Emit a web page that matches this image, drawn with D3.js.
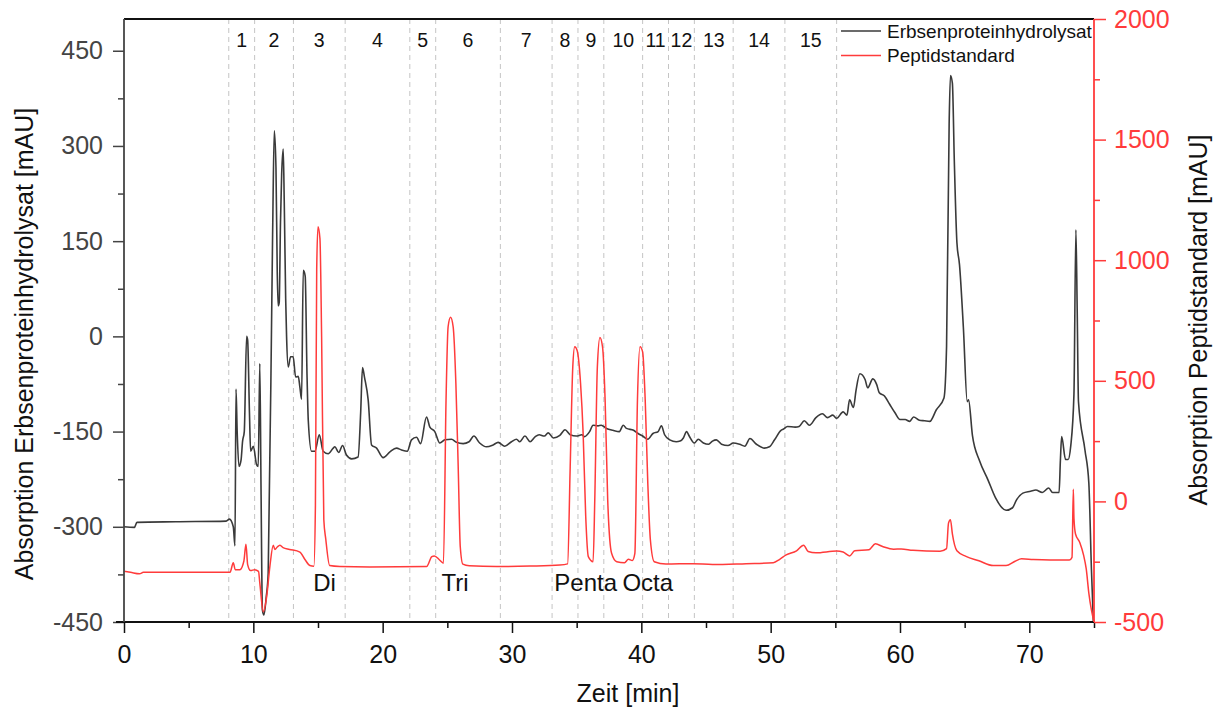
<!DOCTYPE html>
<html>
<head>
<meta charset="utf-8">
<script src="https://cdn.jsdelivr.net/npm/d3@7"></script>
<style>
  body { margin: 0; background: #fff; }
  svg { display: block; font-family: "Liberation Sans", Arial, sans-serif; }
</style>
</head>
<body>
<div id="plot"></div>
<script>
// chromatogram traces, [time in min, absorption in mAU]
const erbsen = [
  [0, -300], [0.8, -301], [1.0, -293], [4, -292], [7.9, -291], [8.15, -288], [8.45, -300],
  [8.58, -330], [8.66, -83], [8.75, -150], [8.89, -205], [9.05, -195], [9.17, -165], [9.3, -150],
  [9.48, 0], [9.56, -6], [9.7, -120], [9.79, -181], [10.0, -173], [10.25, -202], [10.38, -205],
  [10.5, -43], [10.6, -250], [10.7, -431], [10.82, -439], [11.0, -410], [11.15, -373],
  [11.49, 160], [11.62, 324], [11.75, 266], [11.85, 100], [11.92, 48], [12.0, 53], [12.1, 180],
  [12.19, 255], [12.31, 295], [12.39, 213], [12.5, 60], [12.57, 0], [12.7, -48], [12.88, -32],
  [13.08, -32], [13.27, -64], [13.47, -63], [13.6, -80], [13.73, -99], [13.86, 104], [14.01, 95],
  [14.15, -60], [14.25, -133], [14.5, -181], [14.76, -181], [15.1, -155], [15.4, -181],
  [15.79, -185], [16.18, -176], [16.3, -174], [16.6, -183], [16.9, -172], [17.2, -187],
  [17.6, -193], [18.1, -190], [18.3, -120], [18.44, -49], [18.6, -65], [18.88, -100],
  [19.14, -171], [19.53, -176], [20.04, -191], [20.56, -182], [21.07, -176], [21.46, -179],
  [21.9, -181], [22.23, -163], [22.62, -159], [22.93, -169], [23.39, -127], [23.65, -143],
  [24.03, -150], [24.42, -168], [24.81, -163], [25.32, -162], [25.71, -167], [26.22, -169],
  [26.68, -166], [27.05, -157], [27.5, -168], [28.03, -174], [28.54, -171], [28.93, -167],
  [29.44, -173], [29.96, -166], [30.35, -162], [30.6, -166], [31.0, -157], [31.4, -166],
  [31.8, -158], [32.1, -155], [32.5, -157], [32.8, -152], [33.2, -160], [33.7, -156],
  [34.1, -147], [34.5, -155], [34.98, -157], [35.4, -155], [35.6, -158], [36.0, -150],
  [36.27, -140], [36.65, -141], [36.9, -140], [37.3, -145], [37.8, -148], [38.3, -150],
  [38.6, -140], [38.85, -145], [39.4, -148], [39.75, -153], [40.1, -157], [40.5, -162],
  [40.9, -153], [41.3, -150], [41.55, -141], [41.8, -155], [42.2, -163], [42.7, -166],
  [43.0, -165], [43.25, -160], [43.5, -150], [43.7, -157], [44.1, -168], [44.4, -162],
  [44.8, -168], [45.2, -170], [45.5, -165], [45.8, -163], [46.2, -170], [46.7, -172],
  [47.1, -168], [47.6, -170], [48.0, -173], [48.4, -161], [48.9, -170], [49.5, -176],
  [49.9, -174], [50.3, -163], [50.8, -148], [51.0, -146], [51.3, -142], [51.9, -143],
  [52.2, -142], [52.6, -133], [53.0, -140], [53.5, -128], [54.0, -122], [54.4, -128],
  [54.8, -124], [55.1, -129], [55.6, -119], [55.9, -124], [56.1, -100], [56.4, -112],
  [56.6, -85], [56.9, -59], [57.3, -68], [57.5, -81], [57.9, -67], [58.2, -76], [58.4, -89],
  [58.8, -94], [59.2, -107], [59.6, -120], [60.0, -131], [60.4, -131], [60.75, -134],
  [61.05, -127], [61.5, -132], [61.9, -133], [62.3, -134], [62.8, -116], [63.4, -97],
  [63.6, -16], [63.8, 335], [63.9, 411], [64.05, 399], [64.2, 276], [64.4, 148], [64.6, 113],
  [64.9, 14], [65.2, -103], [65.3, -100], [65.6, -156], [66.15, -196], [66.8, -226],
  [67.4, -255], [67.8, -268], [68.2, -274], [68.7, -270], [69.0, -258], [69.5, -247],
  [70.1, -244], [70.5, -242], [71.0, -246], [71.5, -239], [71.8, -246], [72.3, -246],
  [72.4, -196], [72.5, -158], [72.8, -194], [73.0, -194], [73.2, -173], [73.45, -91],
  [73.6, 168], [73.7, 43], [73.8, -103], [74.3, -179], [74.6, -231], [74.8, -366], [74.95, -450]
];

const peptid = [
  [0, -290], [0.5, -294], [1.2, -300], [1.5, -294], [8.2, -294], [8.45, -254], [8.6, -283],
  [8.96, -283], [9.27, -247], [9.43, -178], [9.56, -262], [9.79, -287], [10.1, -283],
  [10.4, -290], [10.5, -338], [10.77, -458], [11.03, -395], [11.28, -269], [11.54, -182],
  [11.67, -199], [11.85, -189], [12.06, -182], [12.3, -192], [12.8, -199], [13.6, -210],
  [13.99, -241], [14.37, -266], [14.68, -269], [14.8, -17], [14.9, 963], [15.0, 1139],
  [15.15, 1090], [15.28, 683], [15.45, -76], [15.6, -156], [15.9, -266], [16.7, -270],
  [19.0, -272], [23.4, -270], [23.8, -229], [24.0, -226], [24.4, -243], [24.7, -256],
  [24.9, 420], [25.06, 724], [25.25, 763], [25.45, 724], [25.66, 490], [25.84, 144],
  [26.0, -188], [26.2, -260], [26.7, -267], [28.8, -270], [31.4, -268], [33.7, -264],
  [34.3, -259], [34.5, 144], [34.7, 558], [34.85, 641], [35.03, 627], [35.3, 490], [35.5, 282],
  [35.7, -63], [35.9, -229], [36.27, -250], [36.4, 6], [36.6, 558], [36.8, 680], [37.0, 641],
  [37.2, 420], [37.4, 6], [37.7, -215], [38.1, -250], [38.7, -254], [39.0, -240], [39.3, -245],
  [39.5, -215], [39.7, 420], [39.9, 641], [40.1, 620], [40.3, 420], [40.5, 75], [40.7, -160],
  [41.0, -250], [41.9, -260], [44.0, -258], [45.5, -262], [48.1, -258], [50.2, -254],
  [50.7, -240], [51.2, -222], [52.0, -205], [52.55, -182], [52.9, -208], [53.5, -213],
  [55.1, -206], [55.6, -210], [56.1, -226], [56.5, -205], [57.6, -200], [58.1, -176],
  [58.7, -188], [59.5, -198], [60.1, -197], [61.0, -203], [63.1, -207], [63.6, -196],
  [63.75, -90], [63.9, -76], [64.05, -135], [64.4, -205], [65.1, -228], [66.1, -246],
  [67.2, -266], [68.2, -266], [68.9, -248], [69.4, -238], [70.3, -241], [71.6, -243],
  [73.1, -243], [73.3, -232], [73.4, 50], [73.45, -70], [73.57, -135], [73.9, -170],
  [74.2, -224], [74.4, -280], [74.6, -380], [74.8, -450], [75, -500]
];

// fraction boundaries (min) and fraction numbers
const fractionBounds = [8.1, 10.1, 13.1, 17.1, 22.1, 24.1, 29.1, 33.1, 35.1, 37.1, 40.1, 42.1, 44.1, 47.1, 51.1, 55.1];
const fractionLabels = ['1', '2', '3', '4', '5', '6', '7', '8', '9', '10', '11', '12', '13', '14', '15'];

// peptide standard annotations
const peakNames = ['Di', 'Tri', 'Penta', 'Octa'];
const peakTimes = [15.5, 25.6, 35.7, 40.5];

const xTicks = [0, 10, 20, 30, 40, 50, 60, 70];
const xMinor = [5, 15, 25, 35, 45, 55, 65, 75];
const leftTicks = [-450, -300, -150, 0, 150, 300, 450];
const leftMinor = [-375, -225, -75, 75, 225, 375];
const rightTicks = [-500, 0, 500, 1000, 1500, 2000];
const rightMinor = [-250, 250, 750, 1250, 1750];

const width = 1217;
const height = 709;
const red = '#ff3b3b';

const svg = d3.select('#plot').append('svg')
    .attr('width', width)
    .attr('height', height);

const x = d3.scaleLinear().domain([0, 75]).range([124, 1094]);
const yL = d3.scaleLinear().domain([-450, 500]).range([622, 19]);
const yR = d3.scaleLinear().domain([-500, 2000]).range([622, 19]);

// dashed fraction boundaries
svg.append('g').selectAll('line')
    .data(fractionBounds)
    .join('line')
    .attr('x1', d => x(d)).attr('x2', d => x(d))
    .attr('y1', yL.range()[1]).attr('y2', yL.range()[0])
    .attr('stroke', '#c4c4c4')
    .attr('stroke-width', 1)
    .attr('stroke-dasharray', '5,4');

svg.append('g').selectAll('text')
    .data(fractionLabels)
    .join('text')
    .attr('x', (d, i) => x((fractionBounds[i] + fractionBounds[i + 1]) / 2))
    .attr('y', 47)
    .attr('text-anchor', 'middle')
    .attr('font-size', '19.5px')
    .attr('fill', '#111')
    .text(d => d);

// traces
const lineL = d3.line().x(d => x(d[0])).y(d => yL(d[1])).curve(d3.curveMonotoneX);
const lineR = d3.line().x(d => x(d[0])).y(d => yR(d[1])).curve(d3.curveMonotoneX);

svg.append('path')
    .datum(erbsen)
    .attr('d', lineL)
    .attr('fill', 'none')
    .attr('stroke', '#3a3a3a')
    .attr('stroke-width', 1.6);

svg.append('path')
    .datum(peptid)
    .attr('d', lineR)
    .attr('fill', 'none')
    .attr('stroke', red)
    .attr('stroke-width', 1.5);

// peak names
svg.append('g').selectAll('text')
    .data(peakNames)
    .join('text')
    .attr('x', (d, i) => x(peakTimes[i]))
    .attr('y', 591)
    .attr('text-anchor', 'middle')
    .attr('font-size', '24px')
    .attr('fill', '#111')
    .text(d => d);

// axes
const plain = d => String(d);

function styleAxis(g, color, size) {
    g.select('.domain').remove();
    g.selectAll('line').attr('stroke', color).attr('stroke-width', 1.5);
    g.selectAll('text').attr('fill', color).attr('font-size', size).attr('font-family', null);
}

svg.append('g')
    .attr('transform', `translate(0,${yL.range()[0]})`)
    .call(d3.axisBottom(x).tickValues(xMinor).tickSize(6).tickFormat(''))
    .call(g => styleAxis(g, '#111', '25px'));
svg.append('g')
    .attr('transform', `translate(0,${yL.range()[0]})`)
    .call(d3.axisBottom(x).tickValues(xTicks).tickSize(11).tickPadding(12).tickFormat(plain))
    .call(g => styleAxis(g, '#111', '25px'));

svg.append('g')
    .attr('transform', `translate(${x(0)},0)`)
    .call(d3.axisLeft(yL).tickValues(leftMinor).tickSize(6).tickFormat(''))
    .call(g => styleAxis(g, '#444', '25px'));
svg.append('g')
    .attr('transform', `translate(${x(0)},0)`)
    .call(d3.axisLeft(yL).tickValues(leftTicks).tickSize(11).tickPadding(10).tickFormat(plain))
    .call(g => styleAxis(g, '#444', '25px'));

svg.append('g')
    .attr('transform', `translate(${x(75)},0)`)
    .call(d3.axisRight(yR).tickValues(rightMinor).tickSize(6).tickFormat(''))
    .call(g => styleAxis(g, red, '25px'));
svg.append('g')
    .attr('transform', `translate(${x(75)},0)`)
    .call(d3.axisRight(yR).tickValues(rightTicks).tickSize(12).tickPadding(8).tickFormat(plain))
    .call(g => styleAxis(g, red, '25px'));

// frame
svg.append('line')
    .attr('x1', x(0)).attr('x2', x(75)).attr('y1', 19).attr('y2', 19)
    .attr('stroke', '#111').attr('stroke-width', 1.8);
svg.append('line')
    .attr('x1', x(0) - 8).attr('x2', x(75)).attr('y1', 622).attr('y2', 622)
    .attr('stroke', '#111').attr('stroke-width', 2);
svg.append('line')
    .attr('x1', x(0)).attr('x2', x(0)).attr('y1', 19).attr('y2', 622)
    .attr('stroke', '#444').attr('stroke-width', 1.8);
svg.append('line')
    .attr('x1', x(75)).attr('x2', x(75)).attr('y1', 19).attr('y2', 622)
    .attr('stroke', red).attr('stroke-width', 1.8);

// axis titles
svg.append('text')
    .attr('x', 628).attr('y', 702)
    .attr('text-anchor', 'middle')
    .attr('font-size', '25px')
    .attr('fill', '#111')
    .text('Zeit [min]');

svg.append('text')
    .attr('transform', 'translate(33,344) rotate(-90)')
    .attr('text-anchor', 'middle')
    .attr('font-size', '25px')
    .attr('fill', '#111')
    .text('Absorption Erbsenproteinhydrolysat [mAU]');

svg.append('text')
    .attr('transform', 'translate(1207,320) rotate(-90)')
    .attr('text-anchor', 'middle')
    .attr('font-size', '25px')
    .attr('fill', '#111')
    .text('Absorption Peptidstandard [mAU]');

// legend
const legendItems = [
    {name: 'Erbsenproteinhydrolysat', color: '#3a3a3a'},
    {name: 'Peptidstandard', color: red}
];
const legend = svg.append('g').selectAll('g')
    .data(legendItems)
    .join('g')
    .attr('transform', (d, i) => `translate(841,${31 + i * 24.5})`);
legend.append('line')
    .attr('x1', 0).attr('x2', 40)
    .attr('stroke', d => d.color)
    .attr('stroke-width', 1.5);
legend.append('text')
    .attr('x', 46).attr('y', 6.5)
    .attr('font-size', '19px')
    .attr('fill', '#111')
    .text(d => d.name);
</script>
</body>
</html>
